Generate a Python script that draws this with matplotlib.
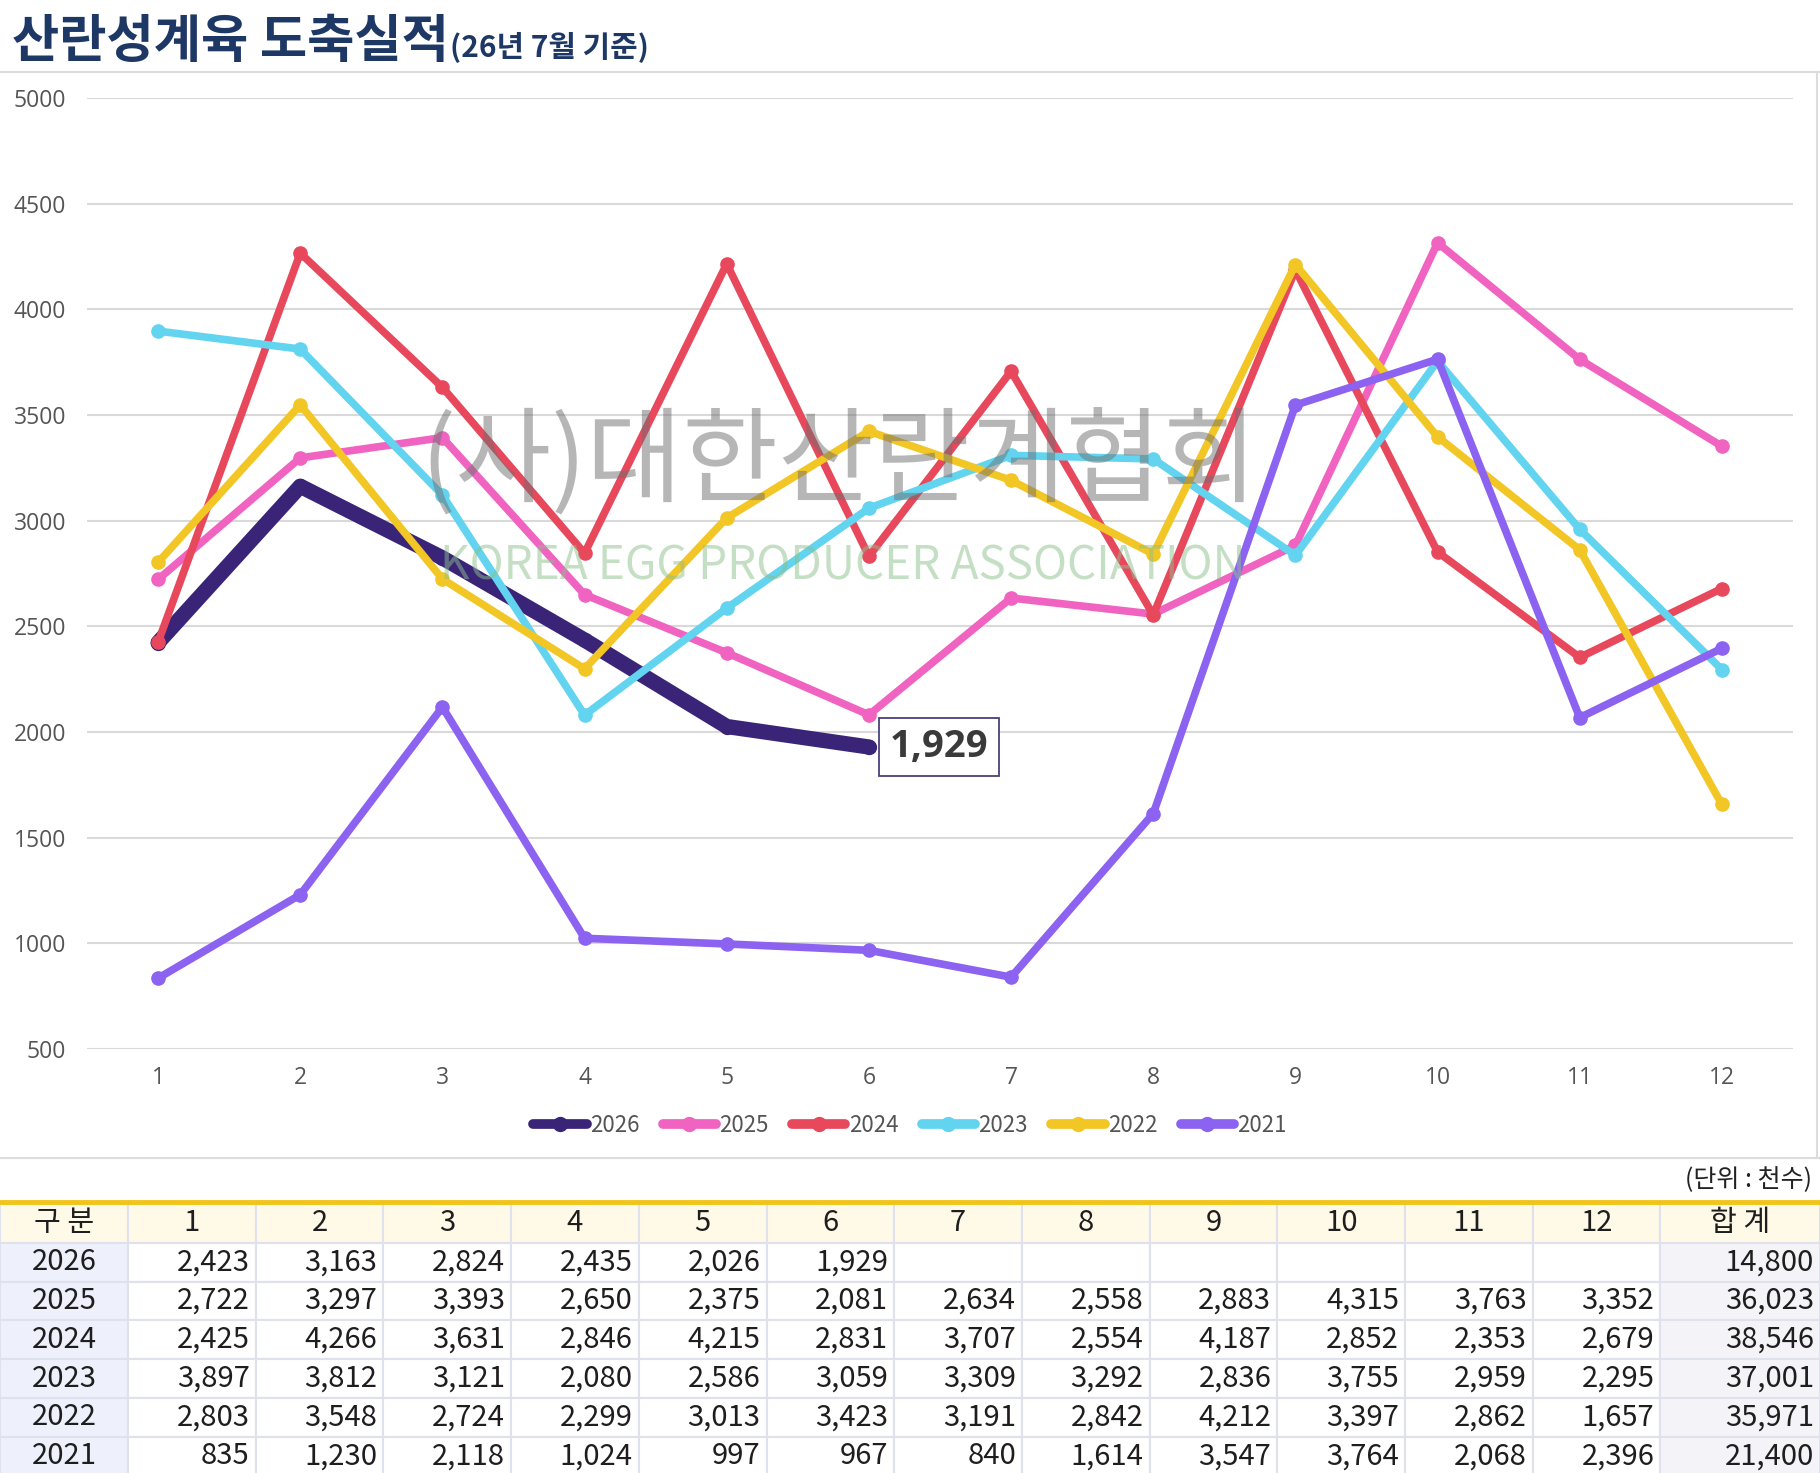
import numpy as np
import matplotlib
matplotlib.use("Agg")
import matplotlib.pyplot as plt
from matplotlib.lines import Line2D
from matplotlib.patches import Rectangle

plt.rcParams['font.family'] = ['Noto Sans CJK KR', 'DejaVu Sans']

# ---- data (천수) ----
months = list(range(1, 13))
years = ["2026", "2025", "2024", "2023", "2022", "2021"]
v2026 = [2423, 3163, 2824, 2435, 2026, 1929]
v2025 = [2722, 3297, 3393, 2650, 2375, 2081, 2634, 2558, 2883, 4315, 3763, 3352]
v2024 = [2425, 4266, 3631, 2846, 4215, 2831, 3707, 2554, 4187, 2852, 2353, 2679]
v2023 = [3897, 3812, 3121, 2080, 2586, 3059, 3309, 3292, 2836, 3755, 2959, 2295]
v2022 = [2803, 3548, 2724, 2299, 3013, 3423, 3191, 2842, 4212, 3397, 2862, 1657]
v2021 = [835, 1230, 2118, 1024, 997, 967, 840, 1614, 3547, 3764, 2068, 2396]
totals = [14800, 36023, 38546, 37001, 35971, 21400]
yticks = [500, 1000, 1500, 2000, 2500, 3000, 3500, 4000, 4500, 5000]

series = [v2026, v2025, v2024, v2023, v2022, v2021]
colors = ["#3a2478", "#f063c0", "#e8485c", "#62d4f0", "#f2c624", "#8c62f0"]

W, H = 1820, 1473
fig = plt.figure(figsize=(W / 100, H / 100), dpi=100)

# full-figure pixel canvas for title / table
bg = fig.add_axes([0, 0, 1, 1], zorder=0)
bg.set_xlim(0, W)
bg.set_ylim(H, 0)
bg.axis('off')

title_color = "#1e3866"
t1 = bg.text(12, 57, "산란성계육 도축실적", fontsize=37, fontweight='black',
             color=title_color, va='baseline', ha='left')
fig.canvas.draw()
bb = t1.get_window_extent(fig.canvas.get_renderer())
bg.text(bb.x1 + 1, 57, "(26년 7월 기준)", fontsize=21.5, fontweight='black',
        color=title_color, va='baseline', ha='left')

# separators
bg.plot([0, W], [72, 72], color="#dcdcdc", lw=1.5)
bg.plot([0, W], [1158, 1158], color="#dcdcdc", lw=1.5)
bg.plot([1817, 1817], [72, 1158], color="#dcdcdc", lw=1.5)

# ---- chart ----
ax = fig.add_axes([87 / W, 1 - 1049 / H, (1793 - 87) / W, (1049 - 98) / H], zorder=1)
ax.set_facecolor('none')
for i, (yr, vals, c) in enumerate(zip(years, series, colors)):
    x = months[:len(vals)]
    if yr == "2026":
        ax.plot(x, vals, color=c, lw=11, marker='o', ms=10,
                solid_capstyle='round', solid_joinstyle='round', zorder=3 + i)
    else:
        ax.plot(x, vals, color=c, lw=5.5, marker='o', ms=9.5,
                solid_joinstyle='round', zorder=3 + i)

ax.set_xlim(0.5, 12.5)
ax.set_ylim(500, 5000)
ax.set_xticks(months)
ax.set_yticks(yticks)
ax.tick_params(length=0, labelsize=16.5, labelcolor="#555555")
for lab in ax.get_xticklabels() + ax.get_yticklabels():
    lab.set_family(['Open Sans', 'DejaVu Sans'])
ax.tick_params(axis='y', pad=15)
ax.tick_params(axis='x', pad=12)
for s in ax.spines.values():
    s.set_visible(False)
ax.grid(axis='y', color="#d9d9d9", lw=1.5)
ax.set_axisbelow(True)

# last value label
ax.annotate(f"{v2026[-1]:,}", xy=(len(v2026), v2026[-1]), xytext=(15, 0),
            textcoords='offset points', ha='left', va='center',
            fontsize=27.5, fontweight='bold', color="#3a3a3a",
            family=['Open Sans', 'DejaVu Sans'],
            bbox=dict(boxstyle='square,pad=0.27', fc='white', ec="#4b3f7c", lw=1.3),
            zorder=20)

# watermark
ax.text(0.441, 0.614, "(사)대한산란계협회", transform=ax.transAxes, ha='center', va='center',
        fontsize=75, fontweight='medium', color="#6f6f6f", alpha=0.5, zorder=15)
ax.text(0.443, 0.508, "KOREA EGG PRODUCER ASSOCIATION", transform=ax.transAxes,
        ha='center', va='center', fontsize=33, fontweight='light',
        color="#8cc08c", alpha=0.5, zorder=15)

# legend
handles = [Line2D([], [], color=c, lw=7, marker='o', ms=10, solid_capstyle='round')
           for c in colors]
ax.legend(handles, years, loc='center', bbox_to_anchor=(910 / W, 1 - 1125 / H),
          bbox_transform=fig.transFigure, ncol=6, frameon=False, fontsize=16,
          handlelength=2.4, handletextpad=0.15, columnspacing=1.05,
          labelcolor="#555555")

# ---- table ----
bg.text(1812, 1180, "(단위 : 천수)", fontsize=18, color="#222222", ha='right', va='center')
bg.plot([0, W], [1202, 1202], color="#f2c318", lw=3.5, zorder=5)

col_w = 127.7
col_edges = [0, 128] + [128 + col_w * k for k in range(1, 13)] + [W]
header_top, row_h = 1204, 38.8
row_edges = [header_top + row_h * k for k in range(len(years) + 2)]

grid_c = "#dfe2ec"
txt_c = "#1e1e1e"
fs = 21

# header
header = ["구 분"] + [str(m) for m in months] + ["합 계"]
for j, lab in enumerate(header):
    x0, x1 = col_edges[j], col_edges[j + 1]
    bg.add_patch(Rectangle((x0, row_edges[0]), x1 - x0, row_h, fc="#fff9e8", ec=grid_c, lw=1.5))
    bg.text((x0 + x1) / 2, row_edges[0] + row_h / 2, lab, fontsize=fs, color=txt_c,
            ha='center', va='center')

for i, (yr, vals) in enumerate(zip(years, series)):
    y0 = row_edges[i + 1]
    yc = y0 + row_h / 2
    for j in range(len(col_edges) - 1):
        x0, x1 = col_edges[j], col_edges[j + 1]
        if j == 0:
            fc = "#eef1fb"
        elif j == len(col_edges) - 2:
            fc = "#f3f3f8"
        else:
            fc = "white"
        bg.add_patch(Rectangle((x0, y0), x1 - x0, row_h, fc=fc, ec=grid_c, lw=1.5))
    bg.text((col_edges[0] + col_edges[1]) / 2, yc, yr, fontsize=fs, color=txt_c,
            ha='center', va='center')
    for m, v in enumerate(vals):
        bg.text(col_edges[m + 2] - 6, yc, f"{v:,}", fontsize=fs, color=txt_c,
                ha='right', va='center')
    bg.text(col_edges[-1] - 6, yc, f"{totals[i]:,}", fontsize=fs, color=txt_c,
            ha='right', va='center')

fig.savefig("out.png", dpi=100)
